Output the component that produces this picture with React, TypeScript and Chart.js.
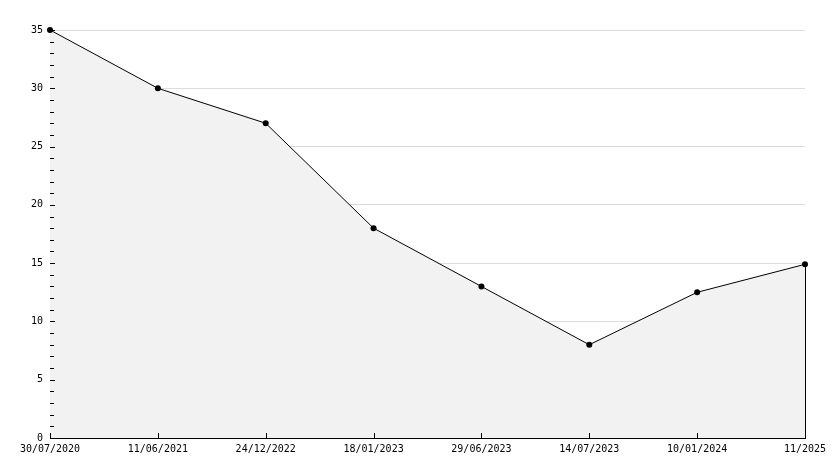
import React, { useEffect, useRef } from "react";
import { Chart, registerables } from "chart.js";

Chart.register(...registerables);

const categories = [
  "30/07/2020",
  "11/06/2021",
  "24/12/2022",
  "18/01/2023",
  "29/06/2023",
  "14/07/2023",
  "10/01/2024",
  "11/2025",
];
const values = [35, 30, 27, 18, 13, 8, 12.5, 14.9];
const yMin = 0;
const yMax = 35;
const yStep = 5;

const FONT = { family: "'DejaVu Sans Mono', monospace", size: 10 };

const ticksPlugin = {
  id: "innerTicks",
  afterDatasetsDraw(chart: any) {
    const { ctx, chartArea, scales } = chart;
    const ys = scales.y;
    const xs = scales.x;
    ctx.save();
    ctx.strokeStyle = "#000";
    ctx.lineWidth = 1;
    ctx.beginPath();
    for (let v = yMin; v <= yMax; v += 1) {
      const py = Math.round(ys.getPixelForValue(v)) + 0.5;
      const len = v % yStep === 0 ? 5 : 4;
      ctx.moveTo(chartArea.left, py);
      ctx.lineTo(chartArea.left + len, py);
    }
    for (let i = 0; i < categories.length; i++) {
      const px = Math.round(xs.getPixelForValue(i)) + 0.5;
      ctx.moveTo(px, chartArea.bottom);
      ctx.lineTo(px, chartArea.bottom - 5);
    }
    const meta = chart.getDatasetMeta(0);
    const last = meta.data[meta.data.length - 1];
    if (last) {
      const lx = Math.round(last.x) + 0.5;
      ctx.moveTo(lx, last.y);
      ctx.lineTo(lx, chartArea.bottom);
    }
    ctx.stroke();
    ctx.restore();
  },
};

export default function App() {
  const ref = useRef<HTMLCanvasElement | null>(null);
  useEffect(() => {
    document.body.style.margin = "0";
    const canvas = ref.current!;
    const chart = new Chart(canvas, {
      type: "line",
      data: {
        labels: categories,
        datasets: [
          {
            data: values,
            borderColor: "#000",
            borderWidth: 1,
            backgroundColor: "#f2f2f2",
            fill: "origin",
            tension: 0,
            clip: false,
            pointRadius: 3,
            pointBackgroundColor: "#000",
            pointBorderColor: "#000",
            pointBorderWidth: 0,
          },
        ],
      },
      options: {
        responsive: false,
        animation: false,
        events: [],
        layout: { padding: { left: 0, right: 29, top: 30, bottom: 0 } },
        plugins: {
          legend: { display: false },
          tooltip: { enabled: false },
        },
        scales: {
          x: {
            type: "category",
            offset: false,
            grid: { display: false, drawTicks: false },
            border: { display: true, color: "#000", width: 1 },
            ticks: {
              color: "#000",
              font: FONT,
              padding: 5,
              maxRotation: 0,
              autoSkip: false,
            },
            afterFit: (s: any) => {
              s.height = 30;
            },
          },
          y: {
            min: yMin,
            max: yMax,
            grid: {
              color: (c: any) => (c.tick && c.tick.value === 0 ? "rgba(0,0,0,0)" : "#dcdcdc"),
              drawTicks: false,
              lineWidth: 1,
            },
            border: { display: true, color: "#000", width: 1 },
            ticks: {
              stepSize: yStep,
              color: "#000",
              font: FONT,
              padding: 7,
            },
            afterFit: (s: any) => {
              s.width = 50;
            },
          },
        },
      },
      plugins: [ticksPlugin],
    });
    return () => chart.destroy();
  }, []);
  return (
    <div style={{ position: "absolute", left: 0, top: 0, width: 834, height: 468 }}>
      <canvas ref={ref} width={834} height={468} style={{ width: 834, height: 468 }} />
    </div>
  );
}
